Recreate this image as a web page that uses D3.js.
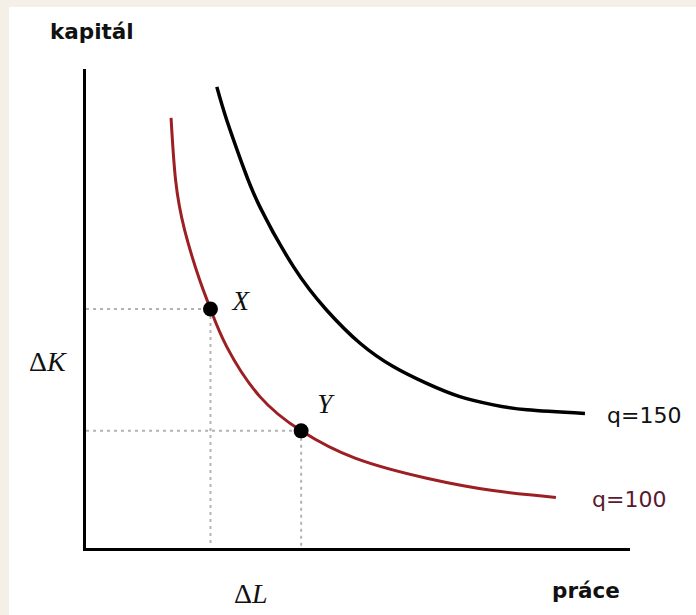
<!DOCTYPE html>
<html>
<head>
<meta charset="utf-8">
<script src="https://cdn.jsdelivr.net/npm/d3@7"></script>
<style>
  html, body { margin: 0; padding: 0; background: #f4f0e7; }
  svg { display: block; }
</style>
</head>
<body>
<svg id="chart" width="696" height="615"></svg>
<script>
// Isoquant q = 100 (labour, capital)
const labor100   = [1.92, 2.02, 2.22, 2.55, 2.79, 3.15, 3.88, 4.79, 5.98, 7.56, 9.02, 10.41];
const capital100 = [9.45, 8.09, 6.99, 5.90, 5.26, 4.43, 3.34, 2.59, 1.99, 1.55, 1.28, 1.13];

// Isoquant q = 150 (labour, capital)
const labor150   = [2.93, 3.15, 3.51, 3.88, 4.62, 5.35, 6.09, 6.82, 7.56, 8.29, 9.03, 9.77, 11.05];
const capital150 = [10.13, 9.40, 8.38, 7.50, 6.19, 5.24, 4.51, 4.00, 3.63, 3.34, 3.16, 3.05, 2.97];

// Two input combinations on the q = 100 isoquant
const pointNames = ["X", "Y"];
const pointL = [2.79, 4.79];
const pointK = [5.26, 2.59];

const curveLabels = ["q=150", "q=100"];

const svg = d3.select("#chart");

// white sheet
svg.append("rect")
  .attr("x", 9).attr("y", 7)
  .attr("width", 696 - 9).attr("height", 615 - 7)
  .attr("fill", "#ffffff");

const x = d3.scaleLinear().domain([0, 12]).range([84, 628]);
const y = d3.scaleLinear().domain([0, 10.5]).range([549, 70]);

// guide lines from the points to the axes
const guides = svg.append("g")
  .attr("stroke", "#b3b3b3")
  .attr("stroke-width", 2)
  .attr("stroke-dasharray", "3,4")
  .attr("fill", "none");
pointL.forEach((l, i) => {
  guides.append("line")
    .attr("x1", x(0) + 2).attr("y1", y(pointK[i]))
    .attr("x2", x(l)).attr("y2", y(pointK[i]));
  guides.append("line")
    .attr("x1", x(l)).attr("y1", y(pointK[i]))
    .attr("x2", x(l)).attr("y2", y(0) - 2);
});

// axes without ticks
const xAxis = d3.axisBottom(x).tickValues([]).tickSizeOuter(0);
const yAxis = d3.axisLeft(y).tickValues([]).tickSizeOuter(0);
svg.append("g").attr("transform", `translate(0,${y(0)})`).call(xAxis)
  .select(".domain").attr("stroke", "#000").attr("stroke-width", 3).attr("stroke-linecap", "square");
svg.append("g").attr("transform", `translate(${x(0)},0)`).call(yAxis)
  .select(".domain").attr("stroke", "#000").attr("stroke-width", 3).attr("stroke-linecap", "square");

const line = d3.line()
  .x(d => x(d[0]))
  .y(d => y(d[1]))
  .curve(d3.curveNatural);

svg.append("path")
  .datum(labor150.map((l, i) => [l, capital150[i]]))
  .attr("d", line)
  .attr("fill", "none")
  .attr("stroke", "#000")
  .attr("stroke-width", 3.5);

svg.append("path")
  .datum(labor100.map((l, i) => [l, capital100[i]]))
  .attr("d", line)
  .attr("fill", "none")
  .attr("stroke", "#9b1f23")
  .attr("stroke-width", 3);

// points X and Y
svg.selectAll("circle.pt")
  .data(pointNames)
  .join("circle")
  .attr("class", "pt")
  .attr("cx", (d, i) => x(pointL[i]))
  .attr("cy", (d, i) => y(pointK[i]))
  .attr("r", 7.5)
  .attr("fill", "#000");

const serif = "'Liberation Serif', 'DejaVu Serif', serif";
const sans = "'DejaVu Sans', Verdana, sans-serif";

svg.selectAll("text.ptlabel")
  .data(pointNames)
  .join("text")
  .attr("class", "ptlabel")
  .attr("x", (d, i) => x(pointL[i]) + (i === 0 ? 22 : 16))
  .attr("y", (d, i) => y(pointK[i]) + (i === 0 ? 1 : -18))
  .attr("font-family", serif)
  .attr("font-style", "italic")
  .attr("font-size", 27)
  .attr("fill", "#111")
  .text(d => d);

// ΔK and ΔL
function deltaLabel(xp, yp, letter) {
  const t = svg.append("text")
    .attr("x", xp).attr("y", yp)
    .attr("font-family", serif)
    .attr("font-size", 28)
    .attr("fill", "#111");
  t.append("tspan").text("Δ");
  t.append("tspan").attr("font-style", "italic").text(letter);
}
deltaLabel(29, 371, "K");
deltaLabel(234, 603, "L");

// axis titles
svg.append("text")
  .attr("x", 50).attr("y", 38.5)
  .attr("font-family", sans).attr("font-weight", "bold")
  .attr("font-size", 21.5).attr("fill", "#111")
  .text("kapitál");
svg.append("text")
  .attr("x", 552).attr("y", 598)
  .attr("font-family", sans).attr("font-weight", "bold")
  .attr("font-size", 21.5).attr("fill", "#111")
  .text("práce");

// isoquant labels
svg.append("text")
  .attr("x", 607).attr("y", 423)
  .attr("font-family", sans).attr("font-size", 22).attr("fill", "#111")
  .text(curveLabels[0]);
svg.append("text")
  .attr("x", 592).attr("y", 507)
  .attr("font-family", sans).attr("font-size", 22).attr("fill", "#5a1a2e")
  .text(curveLabels[1]);
</script>
</body>
</html>
